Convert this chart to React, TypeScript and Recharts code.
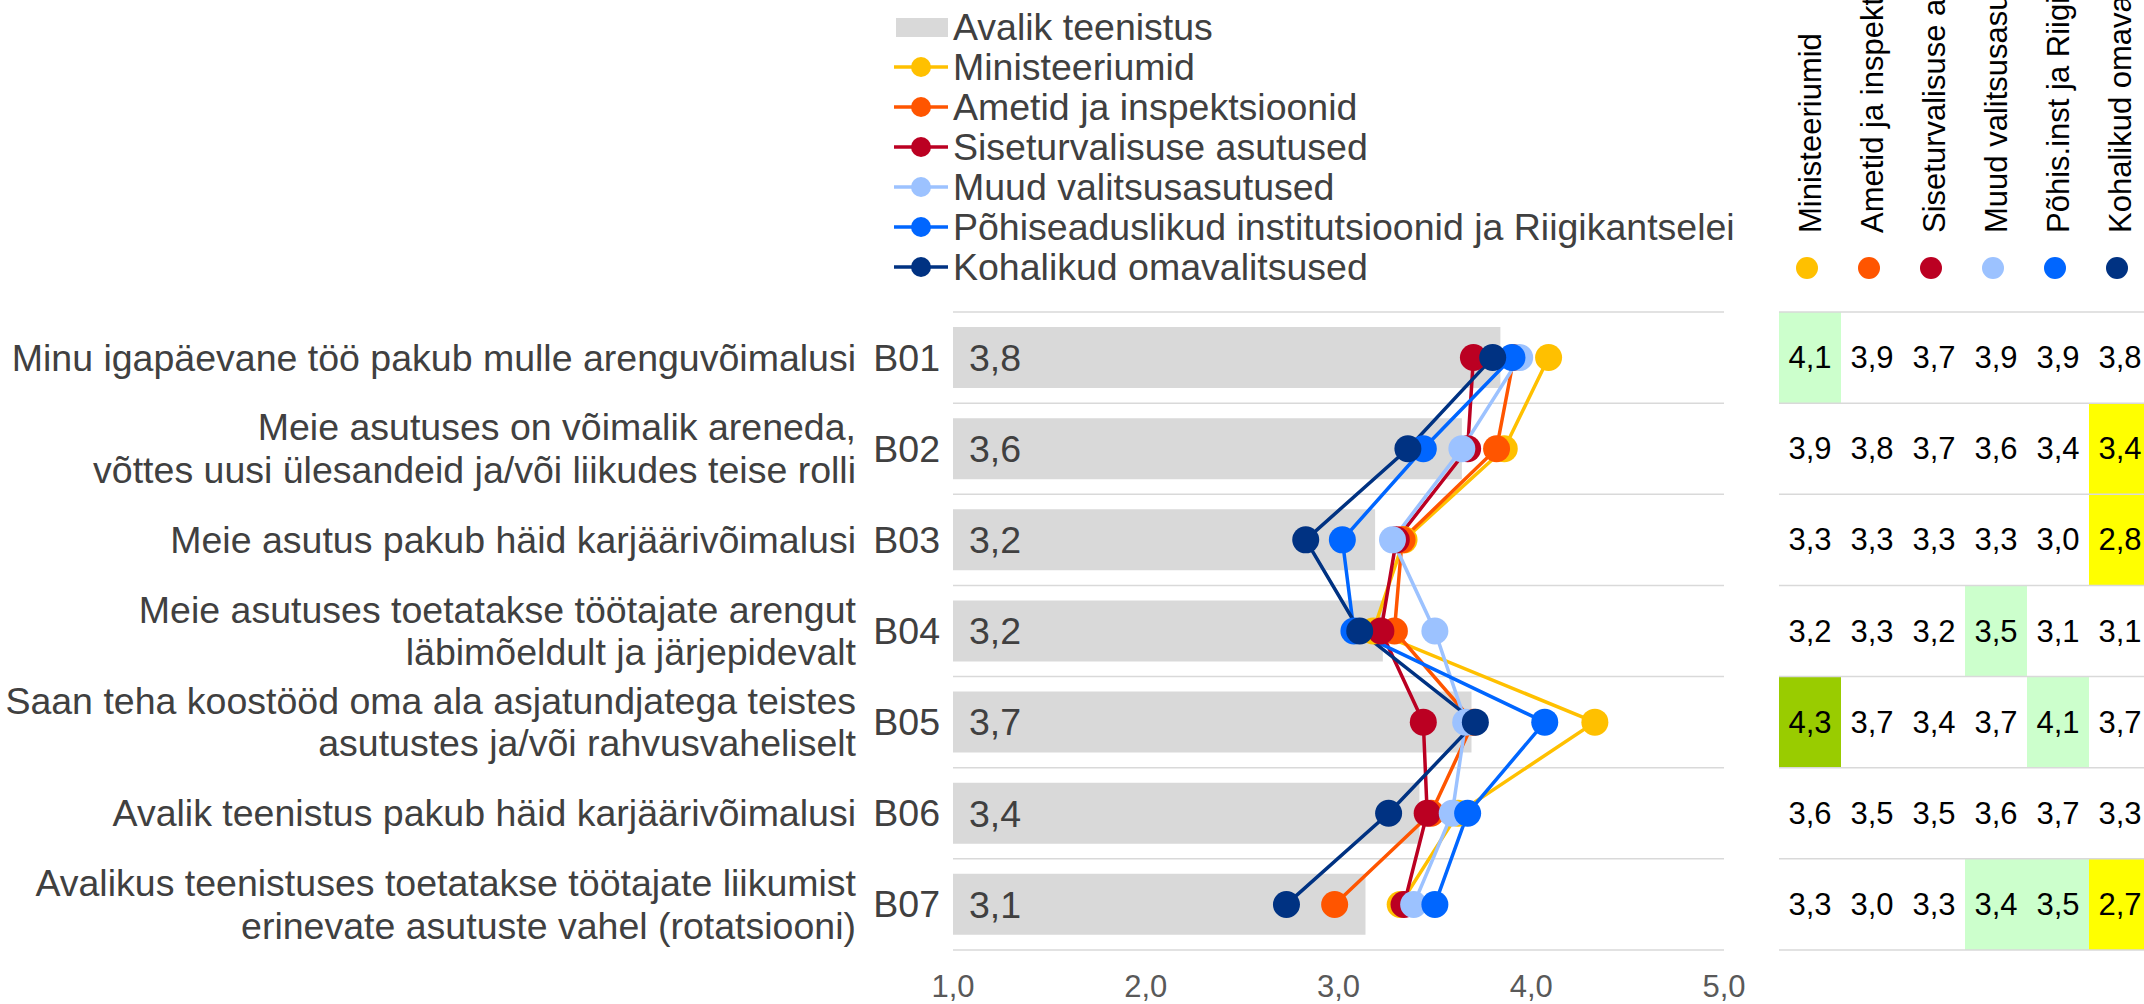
import React from 'react';
import { ComposedChart, Bar, Line, XAxis, YAxis, CartesianGrid, LabelList } from 'recharts';

// survey statements, one row each
const codes = ['B01', 'B02', 'B03', 'B04', 'B05', 'B06', 'B07'];
const questions = [
  ['Minu igapäevane töö pakub mulle arenguvõimalusi'],
  ['Meie asutuses on võimalik areneda,', 'võttes uusi ülesandeid ja/või liikudes teise rolli'],
  ['Meie asutus pakub häid karjäärivõimalusi'],
  ['Meie asutuses toetatakse töötajate arengut', 'läbimõeldult ja järjepidevalt'],
  ['Saan teha koostööd oma ala asjatundjatega teistes', 'asutustes ja/või rahvusvaheliselt'],
  ['Avalik teenistus pakub häid karjäärivõimalusi'],
  ['Avalikus teenistuses toetatakse töötajate liikumist', 'erinevate asutuste vahel (rotatsiooni)'],
];

// mean scores (1..5)
const avalik = [3.84, 3.64, 3.19, 3.23, 3.69, 3.42, 3.14];
const ministeeriumid = [4.09, 3.86, 3.34, 3.18, 4.33, 3.62, 3.32];
const ametid = [3.91, 3.82, 3.33, 3.29, 3.7, 3.48, 2.98];
const siseturvalisus = [3.7, 3.67, 3.3, 3.22, 3.44, 3.46, 3.34];
const muud = [3.94, 3.64, 3.28, 3.5, 3.66, 3.59, 3.39];
const pohis = [3.9, 3.44, 3.02, 3.08, 4.07, 3.67, 3.5];
const kohalikud = [3.8, 3.36, 2.83, 3.11, 3.71, 3.26, 2.73];

const xTicks = [1, 2, 3, 4, 5];

// [row, column, level]: 1 above average, 2 clearly above, -1 below
const highlights = [
  [0, 0, 1], [1, 5, -1], [2, 5, -1], [3, 3, 1], [4, 0, 2], [4, 4, 1], [6, 3, 1], [6, 4, 1], [6, 5, -1],
];

const series = [
  { key: 'ministeeriumid', name: 'Ministeeriumid', short: 'Ministeeriumid', color: '#ffc000', values: ministeeriumid },
  { key: 'ametid', name: 'Ametid ja inspektsioonid', short: 'Ametid ja inspektsioonid', color: '#ff5500', values: ametid },
  { key: 'siseturvalisus', name: 'Siseturvalisuse asutused', short: 'Siseturvalisuse asutused', color: '#bb0022', values: siseturvalisus },
  { key: 'muud', name: 'Muud valitsusasutused', short: 'Muud valitsusasutused', color: '#9cc2ff', values: muud },
  { key: 'pohis', name: 'Põhiseaduslikud institutsioonid ja Riigikantselei', short: 'Põhis.inst ja Riigikantselei', color: '#0066ff', values: pohis },
  { key: 'kohalikud', name: 'Kohalikud omavalitsused', short: 'Kohalikud omavalitsused', color: '#003282', values: kohalikud },
];

const data = codes.map((code, i) => {
  const row: Record<string, string | number> = { code, avalik: avalik[i] };
  series.forEach((s) => (row[s.key] = s.values[i]));
  return row;
});

const fmt = (v: unknown) => Number(v).toFixed(1).replace('.', ',');

const W = 2144;
const H = 1004;
const PLOT_LEFT = 953;
const PLOT_RIGHT = 1724;
const PLOT_TOP = 312;
const PLOT_BOTTOM = 950;
const ROW_H = (PLOT_BOTTOM - PLOT_TOP) / codes.length;
const TABLE_LEFT = 1779;
const COL_W = 62;

const FONT = '"Liberation Sans", Arial, sans-serif';
const TEXT = '#404040';
const levelFill: Record<string, string> = { '1': '#ccffcc', '2': '#99cc00', '-1': '#ffff00' };

function CategoryTick({ x, y, payload }: { x?: number; y?: number; payload?: { value: string } }) {
  if (x == null || y == null || !payload) return null;
  const lines = questions[codes.indexOf(payload.value)] || [];
  const lh = 42.5;
  const start = y - ((lines.length - 1) * lh) / 2;
  return (
    <g fontFamily={FONT} fontSize={37.5} fill={TEXT}>
      <text x={x - 13} y={y} textAnchor="end" dominantBaseline="central">{payload.value}</text>
      {lines.map((l, i) => (
        <text key={i} x={x - 97} y={start + i * lh} textAnchor="end" dominantBaseline="central">{l}</text>
      ))}
    </g>
  );
}

function Legend() {
  return (
    <g fontFamily={FONT} fontSize={37.5} fill={TEXT}>
      <rect x={896} y={18} width={52} height={19} fill="#d9d9d9" />
      <text x={953} y={27} dominantBaseline="central">Avalik teenistus</text>
      {series.map((s, i) => {
        const y = 67 + i * 40;
        return (
          <g key={s.key}>
            <line x1={894} x2={948} y1={y} y2={y} stroke={s.color} strokeWidth={3.5} />
            <circle cx={921} cy={y} r={10} fill={s.color} />
            <text x={953} y={y} dominantBaseline="central">{s.name}</text>
          </g>
        );
      })}
    </g>
  );
}

function ValueTable() {
  return (
    <g fontFamily={FONT}>
      {series.map((s, j) => {
        const cx = TABLE_LEFT + j * COL_W + COL_W / 2;
        return (
          <g key={s.key}>
            <text
              x={cx}
              y={233}
              transform={`rotate(-90 ${cx} 233)`}
              fontSize={31}
              fill="#000"
              dominantBaseline="central"
            >
              {s.short}
            </text>
            <circle cx={cx - 3} cy={268} r={11} fill={s.color} />
          </g>
        );
      })}
      {highlights.map(([r, c, lvl], k) => (
        <rect
          key={k}
          x={TABLE_LEFT + c * COL_W}
          y={PLOT_TOP + r * ROW_H}
          width={COL_W}
          height={ROW_H}
          fill={levelFill[String(lvl)]}
        />
      ))}
      {codes.map((_, i) => (
        <g key={i}>
          {series.map((s, j) => (
            <text
              key={s.key}
              x={TABLE_LEFT + j * COL_W + COL_W / 2}
              y={PLOT_TOP + (i + 0.5) * ROW_H}
              textAnchor="middle"
              dominantBaseline="central"
              fontSize={31}
              fill="#000"
            >
              {fmt(s.values[i])}
            </text>
          ))}
        </g>
      ))}
      {Array.from({ length: codes.length + 1 }, (_, i) => (
        <line
          key={i}
          x1={TABLE_LEFT}
          x2={W}
          y1={PLOT_TOP + i * ROW_H}
          y2={PLOT_TOP + i * ROW_H}
          stroke="#d9d9d9"
          strokeWidth={1.5}
        />
      ))}
    </g>
  );
}

export default function App() {
  const gridRows = Array.from({ length: codes.length + 1 }, (_, i) => PLOT_TOP + i * ROW_H);
  return (
    <div style={{ position: 'fixed', left: 0, top: 0, width: W, height: H, background: '#fff', overflow: 'hidden' }}>
      <ComposedChart
        width={W}
        height={H}
        data={data}
        layout="vertical"
        margin={{ top: PLOT_TOP, right: W - PLOT_RIGHT, bottom: 0, left: 13 }}
      >
        <CartesianGrid vertical={false} horizontalPoints={gridRows} stroke="#d9d9d9" strokeWidth={1.5} />
        <XAxis
          type="number"
          domain={[1, 5]}
          ticks={xTicks}
          tickFormatter={fmt}
          axisLine={false}
          tickLine={false}
          height={H - PLOT_BOTTOM}
          tickMargin={19}
          tick={{ fill: '#595959', fontSize: 31, fontFamily: FONT }}
          allowDataOverflow
        />
        <YAxis
          type="category"
          dataKey="code"
          width={PLOT_LEFT - 13}
          axisLine={false}
          tickLine={false}
          tickSize={0}
          tickMargin={0}
          tick={<CategoryTick />}
        />
        <Bar dataKey="avalik" name="Avalik teenistus" fill="#d9d9d9" barSize={61} isAnimationActive={false}>
          <LabelList dataKey="avalik" position="insideLeft" offset={16} formatter={fmt} fill={TEXT} fontSize={37.5} fontFamily={FONT} />
        </Bar>
        {series.map((s) => (
          <Line
            key={s.key}
            dataKey={s.key}
            name={s.name}
            type="linear"
            stroke={s.color}
            strokeWidth={3.5}
            dot={{ r: 13.5, fill: s.color, stroke: 'none' }}
            activeDot={false}
            isAnimationActive={false}
          />
        ))}
      </ComposedChart>
      <svg width={W} height={H} style={{ position: 'absolute', left: 0, top: 0, pointerEvents: 'none' }}>
        <Legend />
        <ValueTable />
      </svg>
    </div>
  );
}
